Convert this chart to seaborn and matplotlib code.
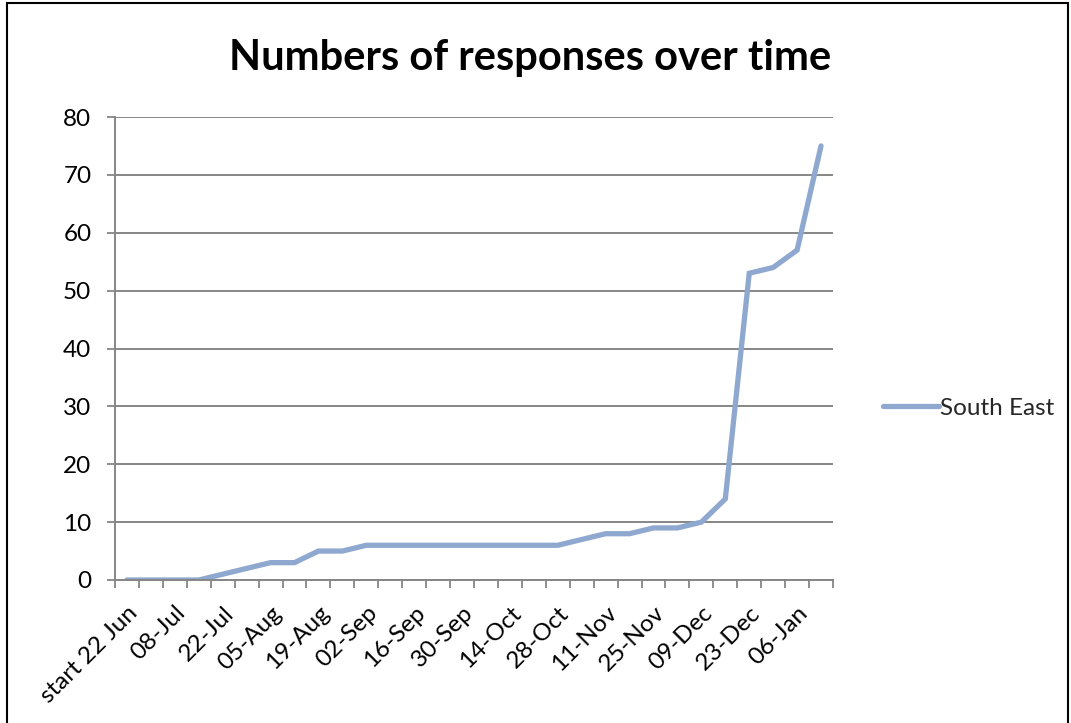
import numpy as np
import pandas as pd
import matplotlib
matplotlib.use("Agg")
import matplotlib.pyplot as plt
import seaborn as sns
from matplotlib.lines import Line2D
from matplotlib.patches import Rectangle

# Weekly cumulative response counts
weeks = ["start 22 Jun", "01-Jul", "08-Jul", "15-Jul", "22-Jul", "29-Jul",
         "05-Aug", "12-Aug", "19-Aug", "26-Aug", "02-Sep", "09-Sep",
         "16-Sep", "23-Sep", "30-Sep", "07-Oct", "14-Oct", "21-Oct",
         "28-Oct", "04-Nov", "11-Nov", "18-Nov", "25-Nov", "02-Dec",
         "09-Dec", "16-Dec", "23-Dec", "30-Dec", "06-Jan", "13-Jan"]
south_east = [0, 0, 0, 0, 1, 2, 3, 3, 5, 5, 6, 6, 6, 6, 6, 6, 6, 6, 6, 7,
              8, 8, 9, 9, 10, 14, 53, 54, 57, 75]
y_ticks = [0, 10, 20, 30, 40, 50, 60, 70, 80]
series_name = "South East"
title = "Numbers of responses over time"

sns.set_theme(style="white")
plt.rcParams["font.family"] = ["Lato", "DejaVu Sans"]

line_color = "#8EA8CF"
axis_gray = "#868686"
label_size = 17.5

df = pd.DataFrame({"pos": np.arange(len(weeks)), "responses": south_east})

fig = plt.figure(figsize=(10.71, 7.23), dpi=100)
ax = fig.add_axes([115 / 1071, 1 - 580 / 723, (833 - 115) / 1071, (580 - 117) / 723])

sns.lineplot(data=df, x="pos", y="responses", ax=ax, color=line_color,
             linewidth=3.8, solid_joinstyle="miter", solid_capstyle="round",
             legend=False)

ax.set_xlim(-0.5, len(weeks) - 0.5)
ax.set_ylim(y_ticks[0], y_ticks[-1])
ax.set_yticks(y_ticks)
ax.set_yticklabels([str(v) for v in y_ticks])

# category labels on every other week, tick marks between categories
ax.set_xticks(np.arange(0, len(weeks), 2))
ax.set_xticklabels(weeks[::2], rotation=45, ha="right", va="top",
                   rotation_mode="anchor")
ax.set_xticks(np.arange(-0.5, len(weeks), 1), minor=True)
ax.tick_params(axis="x", which="major", length=0, pad=16, labelsize=label_size,
               labelcolor="black")
ax.tick_params(axis="x", which="minor", length=6, width=1.3, color=axis_gray,
               direction="out", bottom=True)
ax.tick_params(axis="y", length=6, width=1.3, color=axis_gray, direction="out",
               left=True, pad=11, labelsize=label_size, labelcolor="black")

ax.grid(axis="y", color=axis_gray, linewidth=1.4)
ax.grid(axis="x", visible=False)
ax.set_axisbelow(True)
for side in ["top", "right"]:
    ax.spines[side].set_visible(False)
for side in ["left", "bottom"]:
    ax.spines[side].set_color(axis_gray)
    ax.spines[side].set_linewidth(1.4)
ax.set_xlabel("")
ax.set_ylabel("")

fig.text(530 / 1071, 1 - 58 / 723, title, ha="center", va="center",
         fontsize=30, fontweight="bold", color="black")

handle = Line2D([], [], color=line_color, linewidth=3.8)
fig.legend([handle], [series_name], loc="center left",
           bbox_to_anchor=(866 / 1071, 1 - 408 / 723), frameon=False,
           fontsize=label_size, handlelength=2.3, handletextpad=0.05,
           borderpad=0.2)

fig.patches.append(Rectangle((7 / 1071, -0.01), (1068 - 7) / 1071, 1 - 3 / 723 + 0.01,
                             transform=fig.transFigure, fill=False,
                             edgecolor="black", linewidth=1.5))

fig.savefig("out.png", dpi=100, facecolor="white")
